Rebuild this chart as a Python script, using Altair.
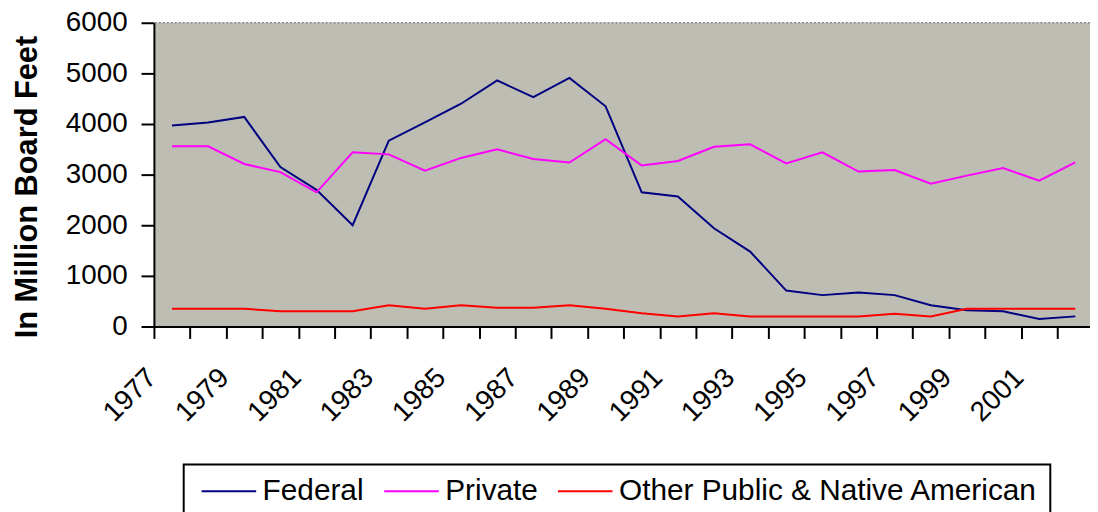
import altair as alt
import pandas as pd

years = list(range(1977, 2003))
federal = [3970, 4030, 4140, 3150, 2700, 2000, 3670, 4030, 4400, 4860, 4530, 4910, 4350,
           2650, 2570, 1940, 1480, 710, 620, 670, 620, 420, 320, 300, 150, 200]
private = [3560, 3560, 3210, 3050, 2650, 3440, 3400, 3080, 3330, 3500, 3310, 3240, 3700,
           3180, 3270, 3550, 3600, 3220, 3440, 3060, 3090, 2820, 2980, 3130, 2880, 3240]
other = [350, 350, 350, 300, 300, 300, 420, 350, 420, 370, 370, 420, 350,
         260, 200, 260, 200, 200, 200, 200, 250, 200, 350, 350, 350, 350]
series_names = ["Federal", "Private", "Other Public & Native American"]
series_colors = ["#000080", "#FF00FF", "#FF0000"]
y_ticks = [0, 1000, 2000, 3000, 4000, 5000, 6000]

rows = []
for name, vals in zip(series_names, [federal, private, other]):
    for yr, v in zip(years, vals):
        rows.append({"Year": yr, "Value": v, "Series": name})
df = pd.DataFrame(rows)

FONT = "Liberation Sans"
W = 943
H = 306
x_tick_values = [y - 0.5 for y in years]

x_scale = alt.Scale(domain=[1976.5, 1976.5 + W / 36.4], nice=False, zero=False)
y_scale = alt.Scale(domain=[0, 6000], nice=False)

lines = alt.Chart(df).mark_line(strokeWidth=2, clip=True).encode(
    x=alt.X("Year:Q", scale=x_scale,
            axis=alt.Axis(values=x_tick_values,
                          labelExpr="(datum.value + 0.5) % 2 == 1 ? format(datum.value + 0.5, 'd') : ''",
                          labelAngle=315, labelAlign="right", labelBaseline="middle",
                          labelOffset=-2, labelPadding=35, labelFontSize=28, labelFont=FONT,
                          labelColor="black", labelOverlap=False, labelFlush=False,
                          tickSize=12, tickWidth=2, tickColor="black",
                          domainColor="black", domainWidth=2, grid=False, title=None)),
    y=alt.Y("Value:Q", scale=y_scale,
            axis=alt.Axis(values=y_ticks, format="d", labelFontSize=28, labelFont=FONT,
                          labelColor="black", labelPadding=14,
                          tickSize=13, tickWidth=2, tickColor="black",
                          domainColor="black", domainWidth=2, grid=False,
                          title="In Million Board Feet", titleFont=FONT, titleFontSize=31,
                          titleFontWeight="bold", titleColor="black", titleAngle=270,
                          titleX=-118, titleY=165, titleAlign="center",
                          titleBaseline="alphabetic")),
    color=alt.Color("Series:N",
                    scale=alt.Scale(domain=series_names, range=series_colors),
                    sort=series_names,
                    legend=alt.Legend(orient="none", legendX=30, legendY=445,
                                      direction="horizontal", title=None,
                                      symbolType="M-2.75,0H2.75", symbolSize=400,
                                      symbolOffset=18.5,
                                      symbolStrokeWidth=2, labelFontSize=30,
                                      labelFont=FONT, labelColor="black",
                                      labelOffset=19, labelLimit=0, columnPadding=14,
                                      padding=12, strokeColor="black",
                                      fillColor="white")),
)

top_border = alt.Chart(pd.DataFrame({"top": [6000]})).mark_rule(
    color="#666666", strokeDash=[2, 2], strokeWidth=1
).encode(y=alt.Y("top:Q", scale=y_scale))

chart = alt.layer(lines, top_border).properties(
    width=W, height=H,
    autosize=alt.AutoSizeParams(type="none"),
    padding={"left": 147, "top": 13, "right": 0, "bottom": 504 - 13 - H},
).configure_view(fill="#bebdb4", stroke=None).configure_legend(strokeWidth=2)

chart.save("out.html", embed_options={"renderer": "svg", "actions": False})
